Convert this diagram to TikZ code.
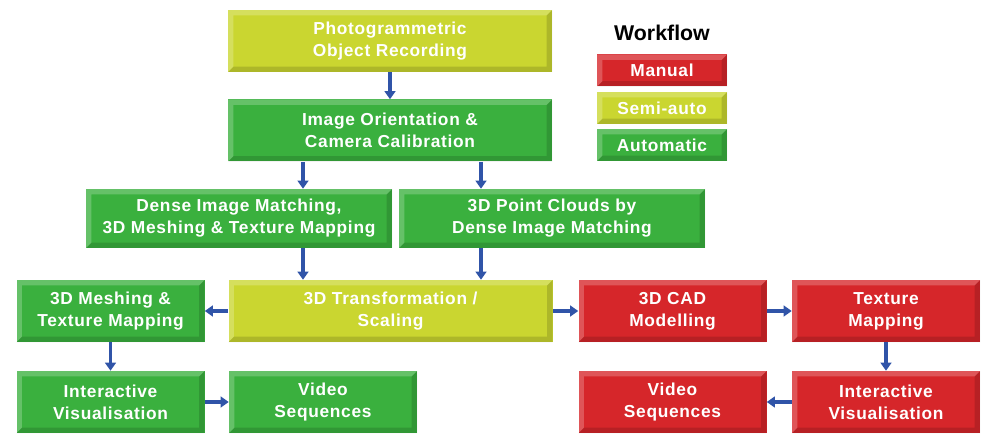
\documentclass[tikz,border=0pt]{standalone}
\usepackage{fontspec}
\setmainfont{Liberation Sans}[LetterSpace=4]
\usetikzlibrary{positioning}
\usetikzlibrary{arrows.meta}
\usetikzlibrary{calc}
\definecolor{manualred}{RGB}{214,38,42}
\definecolor{semiyellow}{RGB}{202,214,48}
\definecolor{autogreen}{RGB}{58,176,62}
\definecolor{flowblue}{RGB}{48,84,168}

\begin{document}
\begin{tikzpicture}[x=0.75pt, y=-0.75pt,
    stage/.style={fill=#1, text=white, align=center, inner sep=0pt,
        font=\bfseries\fontsize{13}{16.5}\selectfont,
        path picture={
            \fill[white, opacity=0.22] (path picture bounding box.north west) -- (path picture bounding box.north east)
                -- ([shift={(-4pt,-4pt)}]path picture bounding box.north east) -- ([shift={(4pt,-4pt)}]path picture bounding box.north west)
                -- ([shift={(4pt,4pt)}]path picture bounding box.south west) -- (path picture bounding box.south west) -- cycle;
            \fill[black, opacity=0.14] (path picture bounding box.south west) -- (path picture bounding box.south east)
                -- (path picture bounding box.north east) -- ([shift={(-4pt,-4pt)}]path picture bounding box.north east)
                -- ([shift={(-4pt,4pt)}]path picture bounding box.south east) -- ([shift={(4pt,4pt)}]path picture bounding box.south west) -- cycle;
        }},
    wide/.style={minimum width=243pt, minimum height=46.5pt},
    half/.style={minimum width=229.5pt, minimum height=44.25pt},
    small/.style={minimum width=141pt, minimum height=46.5pt},
    legend/.style={minimum width=97.5pt, minimum height=24pt},
    flow/.style={draw=flowblue, line width=2.5pt, -{Triangle[length=6pt, width=8pt]}}]
    \useasboundingbox (0,0) rectangle (981,438);

    % Column positions of the vertical arrows
    \coordinate (colA) at (303,0);
    \coordinate (colB) at (481,0);

    % Main chain
    \node[stage=semiyellow, wide] (rec) at (390,41) {Photogrammetric\\Object Recording};
    \node[stage=autogreen, wide] (orient) at (390,130.5) {Image Orientation \&\\Camera Calibration};
    \node[stage=autogreen, half] (dense) at (239,218.5) {Dense Image Matching,\\3D Meshing \& Texture Mapping};
    \node[stage=autogreen, half] (cloud) at (552,218.5) {3D Point Clouds by\\Dense Image Matching};
    \node[stage=semiyellow, wide] (trans) at (390.5,311) {3D Transformation /\\Scaling};

    % Automatic branch (left)
    \node[stage=autogreen, small] (mesh) at (110.5,311) {3D Meshing \&\\Texture Mapping};
    \node[stage=autogreen, small] (visL) at (110.5,402) {Interactive\\Visualisation};
    \node[stage=autogreen, small] (vidL) at (323,402) {Video\\Sequences};

    % Manual branch (right)
    \node[stage=manualred, small] (cad) at (672.5,311) {3D CAD\\Modelling};
    \node[stage=manualred, small] (tex) at (886,311) {Texture\\Mapping};
    \node[stage=manualred, small] (visR) at (886,402) {Interactive\\Visualisation};
    \node[stage=manualred, small] (vidR) at (672.5,402) {Video\\Sequences};

    % Legend
    \node[font=\fontsize{16}{18}\selectfont\addfontfeatures{LetterSpace=0}\bfseries] (wf) at (662,33) {Workflow};
    \node[stage=manualred, legend] (legM) at (662,70.5) {Manual};
    \node[stage=semiyellow, legend] (legS) at (662,108) {Semi-auto};
    \node[stage=autogreen, legend] (legA) at (662,145) {Automatic};

    % Arrows
    \draw[flow] (rec) -- (orient);
    \draw[flow] (orient.south -| colA) -- (dense.north -| colA);
    \draw[flow] (orient.south -| colB) -- (cloud.north -| colB);
    \draw[flow] (dense.south -| colA) -- (trans.north -| colA);
    \draw[flow] (cloud.south -| colB) -- (trans.north -| colB);
    \draw[flow] (trans) -- (mesh);
    \draw[flow] (mesh) -- (visL);
    \draw[flow] (visL) -- (vidL);
    \draw[flow] (trans) -- (cad);
    \draw[flow] (cad) -- (tex);
    \draw[flow] (tex) -- (visR);
    \draw[flow] (visR) -- (vidR);
\end{tikzpicture}
\end{document}
